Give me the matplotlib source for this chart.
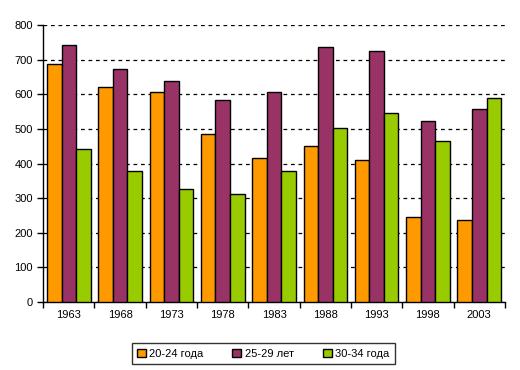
import numpy as np
import matplotlib.pyplot as plt

plt.rcParams['font.family'] = ['Liberation Sans', 'DejaVu Sans']

years = ['1963', '1968', '1973', '1978', '1983', '1988', '1993', '1998', '2003']
age20_24 = [687, 622, 606, 485, 416, 450, 410, 246, 237]
age25_29 = [744, 672, 638, 583, 606, 736, 724, 522, 557]
age30_34 = [441, 377, 327, 312, 377, 502, 545, 465, 589]
seriesNames = ['20-24 года', '25-29 лет', '30-34 года']
colors = ['#FF9900', '#993366', '#99CC00']

fig = plt.figure(figsize=(5.2, 3.7), dpi=100)
ax = fig.add_axes([0.083, 0.184, 0.888, 0.748])

x = np.arange(len(years))
w = 0.283
for i, (vals, name, c) in enumerate(zip([age20_24, age25_29, age30_34], seriesNames, colors)):
    ax.bar(x + (i - 1) * w, vals, width=w, color=c, edgecolor='black', linewidth=1.0,
           label=name, zorder=3)

ax.set_xlim(-0.5, len(years) - 0.5)
ax.set_ylim(0, 800)
ax.set_yticks(range(0, 801, 100))
ax.set_xticks(x)
ax.set_xticklabels(years)
ax.set_xticks(np.arange(-0.5, len(years), 1), minor=True)
ax.tick_params(axis='x', which='major', length=0, labelsize=8, pad=6)
ax.tick_params(axis='x', which='minor', length=4, direction='out', width=1)
ax.tick_params(axis='y', length=4, direction='out', labelsize=8, width=1)

ax.yaxis.grid(True, linestyle=(0, (3, 3)), color='black', linewidth=0.9, zorder=0)
ax.spines['top'].set_visible(False)
ax.spines['right'].set_visible(False)
for s in ['left', 'bottom']:
    ax.spines[s].set_linewidth(1.0)

leg = fig.legend(loc='center', bbox_to_anchor=(0.506, 0.044), ncol=3, fontsize=8,
                 frameon=True, fancybox=False, edgecolor='black', handlelength=0.8,
                 handleheight=0.8, handletextpad=0.3, columnspacing=2.6, borderpad=0.5)
leg.get_frame().set_linewidth(1.0)

plt.savefig('out.png', dpi=100)
plt.close()
